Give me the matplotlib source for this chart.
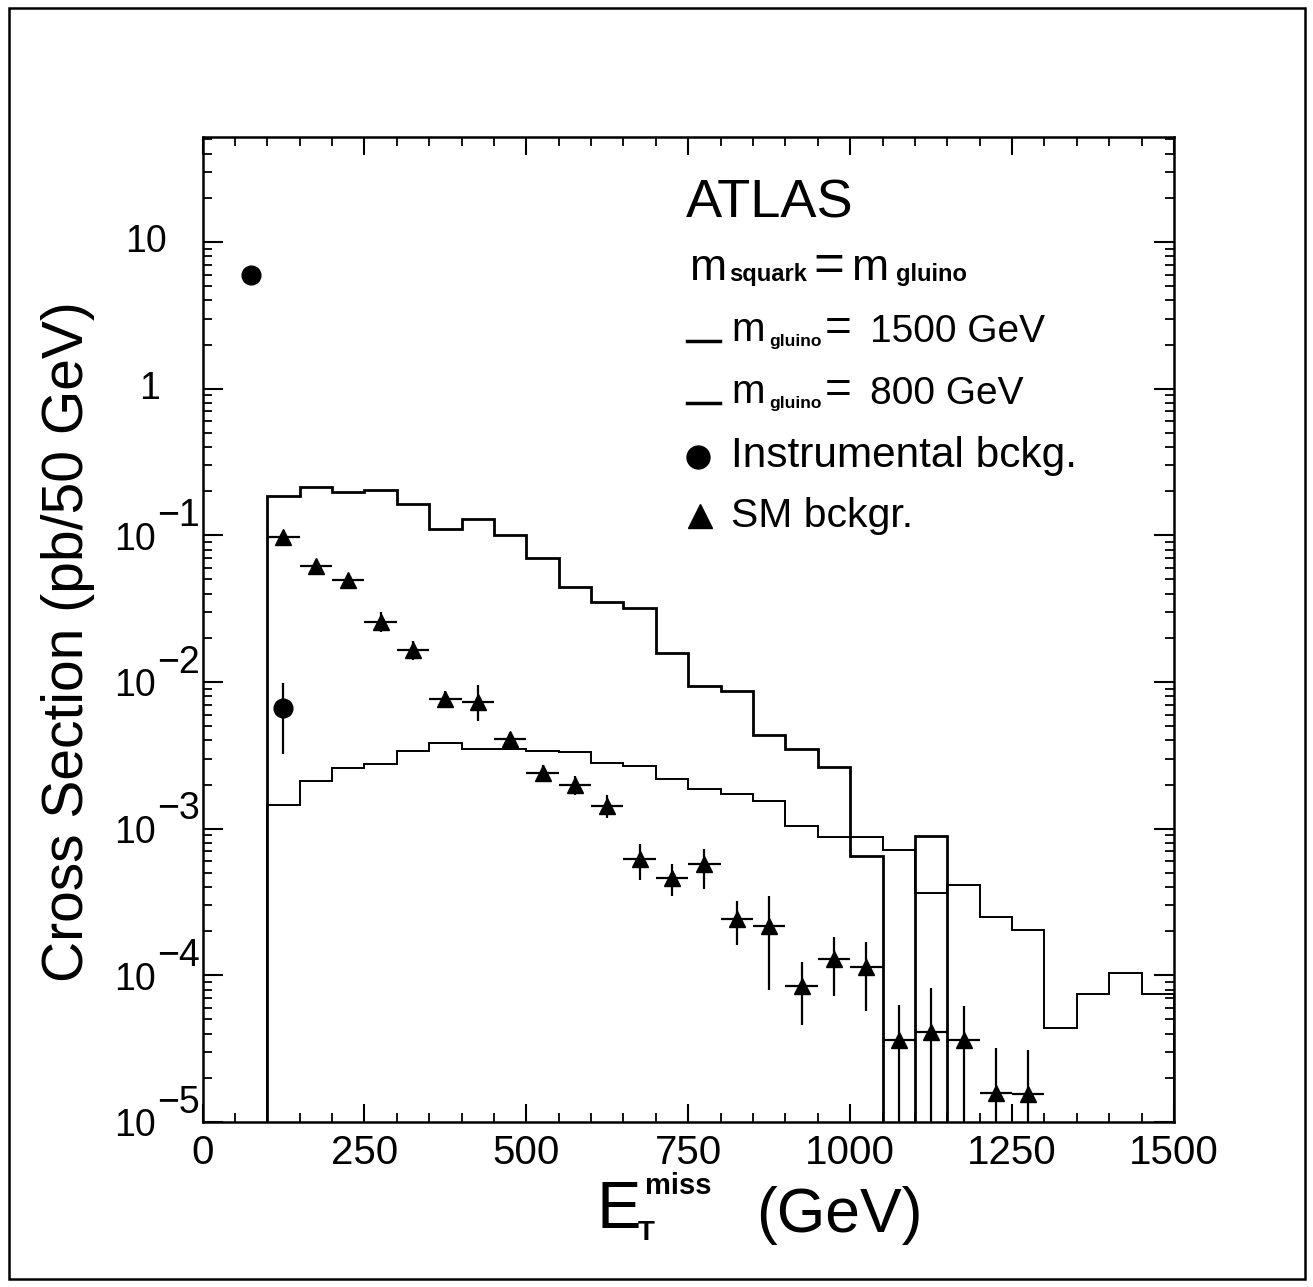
import numpy as np
import matplotlib
matplotlib.use("Agg")
import matplotlib.pyplot as plt
from matplotlib.lines import Line2D
from matplotlib.patches import Rectangle

plt.rcParams['font.family'] = ['Liberation Sans', 'DejaVu Sans']

# 50 GeV bins from 100 to 1500 GeV
bin_edges = np.arange(100, 1501, 50)

# signal cross sections per bin (pb/50 GeV)
sig_800 = [0.185, 0.212, 0.197, 0.205, 0.163, 0.110, 0.129, 0.100, 0.070,
           0.0445, 0.0353, 0.032, 0.0158, 0.0094, 0.00865, 0.00437, 0.00352,
           0.00263, 6.5e-4, 0, 8.85e-4, 0, 0, 0, 0, 0, 0, 0]
sig_1500 = [1.45e-3, 2.13e-3, 2.58e-3, 2.75e-3, 3.4e-3, 3.85e-3, 3.52e-3,
            3.47e-3, 3.4e-3, 3.32e-3, 2.79e-3, 2.69e-3, 2.17e-3, 1.85e-3,
            1.72e-3, 1.55e-3, 1.04e-3, 8.8e-4, 8.8e-4, 7.1e-4, 3.64e-4,
            4.1e-4, 2.5e-4, 2.05e-4, 4.4e-5, 7.5e-5, 1.03e-4, 7.45e-5]

# SM background points (bin centres) with lower / upper error limits
sm_x = [125, 175, 225, 275, 325, 375, 425, 475, 525, 575, 625, 675,
        725, 775, 825, 875, 925, 975, 1025, 1075, 1125, 1175, 1225, 1275]
sm_y = [0.097, 0.062, 0.0497, 0.0256, 0.0166, 7.7e-3, 7.3e-3, 4.1e-3,
        2.4e-3, 2.0e-3, 1.43e-3, 6.2e-4, 4.6e-4, 5.7e-4, 2.43e-4, 2.18e-4,
        8.5e-5, 1.29e-4, 1.14e-4, 3.6e-5, 4.1e-5, 3.6e-5, 1.58e-5, 1.55e-5]
sm_low = [0.09, 0.057, 0.046, 0.0219, 0.0142, 6.7e-3, 5.4e-3, 3.8e-3,
          2.15e-3, 1.7e-3, 1.18e-3, 4.47e-4, 3.5e-4, 3.9e-4, 1.62e-4, 7.9e-5,
          4.6e-5, 7.2e-5, 5.75e-5, 0, 0, 0, 0, 0]
sm_high = [0.105, 0.068, 0.054, 0.030, 0.019, 8.7e-3, 9.6e-3, 4.5e-3,
           2.7e-3, 2.3e-3, 1.7e-3, 7.85e-4, 5.7e-4, 7.3e-4, 3.2e-4, 3.5e-4,
           1.23e-4, 1.83e-4, 1.68e-4, 6.3e-5, 8.2e-5, 6.2e-5, 3.2e-5, 3.1e-5]
sm_halfwidth = 25

# instrumental background
instr_x = [75, 125]
instr_y = [6.0, 6.65e-3]
instr_low = [6.0, 3.25e-3]
instr_high = [6.0, 9.9e-3]

x_ticks = [0, 250, 500, 750, 1000, 1250, 1500]
y_exps = [1, 0, -1, -2, -3, -4, -5]

W, H = 1313, 1287
fig = plt.figure(figsize=(W / 100, H / 100), dpi=100)
ax = fig.add_axes([202.5 / W, 1 - 1122 / H, (1174 - 202.5) / W, (1122 - 137) / H])
ax.set_yscale('log')
ax.set_xlim(0, 1500)
ax.set_ylim(1e-5, 52)

floor = 1e-12
ax.stairs(np.where(np.array(sig_800) > 0, sig_800, floor), bin_edges,
          baseline=floor, color='black', lw=2.0, zorder=2)
ax.stairs(np.where(np.array(sig_1500) > 0, sig_1500, floor), bin_edges,
          baseline=floor, color='black', lw=1.4, zorder=2)

sm_y_a = np.array(sm_y)
sm_lo = np.maximum(np.array(sm_low), floor)
sm_err = [sm_y_a - sm_lo, np.array(sm_high) - sm_y_a]
ax.errorbar(sm_x, sm_y, yerr=sm_err, xerr=sm_halfwidth, fmt='^', color='black',
            ms=12, elinewidth=1.6, capsize=0, zorder=4)

in_y = np.array(instr_y)
in_err = [in_y - np.array(instr_low), np.array(instr_high) - in_y]
ax.errorbar(instr_x, instr_y, yerr=in_err, fmt='o', color='black',
            ms=13.5, elinewidth=1.6, capsize=0, zorder=4)

# axes frame and ticks
for sp in ax.spines.values():
    sp.set_linewidth(1.8)
ax.set_xticks(x_ticks)
ax.set_xticks(np.arange(0, 1501, 50), minor=True)
ax.tick_params(axis='x', which='both', direction='in', top=True, bottom=True,
               labelsize=29, pad=9)
ax.tick_params(axis='x', which='major', length=13, width=1.5)
ax.tick_params(axis='x', which='minor', length=6.5, width=1.3)
ax.set_yticks([10.0 ** e for e in y_exps])
ax.yaxis.set_minor_locator(matplotlib.ticker.LogLocator(base=10, subs=np.arange(2, 10), numticks=20))
ax.tick_params(axis='y', which='both', direction='in', left=True, right=True,
               labelleft=False)
ax.tick_params(axis='y', which='major', length=14.5, width=1.5)
ax.tick_params(axis='y', which='minor', length=6.5, width=1.3)

# y tick labels: "10" with full-size exponent
for e in y_exps:
    v = 10.0 ** e
    if e == 1:
        ax.annotate('10', (0, v), xycoords=('axes fraction', 'data'),
                    xytext=(-25.5, 0), textcoords='offset points',
                    ha='right', va='center', fontsize=27)
    elif e == 0:
        ax.annotate('1', (0, v), xycoords=('axes fraction', 'data'),
                    xytext=(-30.5, 0), textcoords='offset points',
                    ha='right', va='center', fontsize=27)
    else:
        ax.annotate('10', (0, v), xycoords=('axes fraction', 'data'),
                    xytext=(-33.5, -3), textcoords='offset points',
                    ha='right', va='center', fontsize=27, annotation_clip=False)
        ax.annotate('\u2212%d' % (-e), (0, v), xycoords=('axes fraction', 'data'),
                    xytext=(-33, 14), textcoords='offset points',
                    ha='left', va='center', fontsize=27, annotation_clip=False)


def ftext(x, y, s, **kw):
    fig.text(x / W, 1 - y / H, s, **kw)


# axis titles
ftext(68, 642, 'Cross Section (pb/50 GeV)', rotation=90, ha='center',
      va='center', fontsize=41)
ftext(596, 1228, 'E', fontsize=48, va='baseline')
ftext(638, 1240, 'T', fontsize=20, fontweight='bold', va='baseline')
ftext(645, 1194, 'miss', fontsize=21, fontweight='bold', va='baseline')
ftext(756, 1232, '(GeV)', fontsize=45, va='baseline')

# legend block
ftext(686, 217, 'ATLAS', fontsize=39, va='baseline')
ftext(690, 280, 'm', fontsize=32, va='baseline')
ftext(729, 281, 'squark', fontsize=17, fontweight='bold', va='baseline')
ftext(813, 281, '=', fontsize=38, va='baseline')
ftext(852, 280, 'm', fontsize=32, va='baseline')
ftext(896, 281, 'gluino', fontsize=17, fontweight='bold', va='baseline')

for yb, label in [(341, '1500 GeV'), (403, '800 GeV')]:
    fig.add_artist(Line2D([687 / W, 720 / W], [1 - yb / H, 1 - yb / H],
                          color='black', lw=2.5))
    ftext(731, yb, 'm', fontsize=29, va='baseline')
    ftext(769, yb + 5, 'gluino', fontsize=12.5, fontweight='bold', va='baseline')
    ftext(825, yb, '=', fontsize=33, va='baseline')
    ftext(870, yb + 1, label, fontsize=28, va='baseline')

fig.add_artist(Line2D([698 / W], [1 - 457 / H], marker='o', ms=16.5,
                      color='black', ls='none'))
ftext(731, 467, 'Instrumental bckg.', fontsize=30.5, va='baseline')
fig.add_artist(Line2D([700 / W], [1 - 516 / H], marker='^', ms=17,
                      color='black', ls='none'))
ftext(731, 527, 'SM bckgr.', fontsize=29.5, va='baseline')

# outer frame
fig.add_artist(Rectangle((9 / W, 1 - 1279 / H), (1305 - 9) / W, (1279 - 8) / H,
                         transform=fig.transFigure, fill=False, lw=1.8,
                         edgecolor='black'))

fig.savefig('out.png', dpi=100)
